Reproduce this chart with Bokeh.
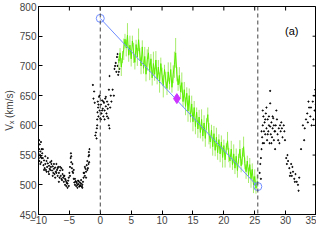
from bokeh.plotting import figure
from bokeh.models import Span, Range1d, FixedTicker
from bokeh.core.properties import value
from bokeh.embed import file_html
from bokeh.resources import INLINE

x_ticks = [-10, -5, 0, 5, 10, 15, 20, 25, 30, 35]
y_ticks = [450, 500, 550, 600, 650, 700, 750, 800]

black1_x = [-10.0,-9.95,-9.9,-9.85,-9.8,-9.75,-9.7,-9.65,-9.6,-9.55,-9.5,-9.4,-9.3,-9.2,-9.1,-9.0,
            -8.9,-8.8,-8.7,-8.6,-8.5,-8.4,-8.3,-8.2,-8.1,-8.0,-7.9,-7.8,-7.7,-7.6,-7.5,-7.4,-7.3,
            -7.2,-7.1,-7.0,-6.9,-6.8,-6.7,-6.6,-6.5,-6.4,-6.3,-6.2,-6.1,-6.0,-5.9,-5.8,-5.7,-5.6,
            -5.5,-5.4,-5.3,-5.2,-5.1,-5.0,-4.9,-4.8,-4.75,-4.7,-4.6,-4.5,-4.4,-4.3,-4.2,-4.1,-4.0,
            -3.9,-3.8,-3.7,-3.6,-3.5,-3.4,-3.3,-3.2,-3.1,-3.0,-2.9,-2.8,-2.7,-2.6,-2.5,-2.4,-2.3,
            -2.2,-2.1,-2.0,-1.9,-1.85,-1.8,-1.75,-1.2,-1.1,-1.0,-0.9,-0.8,-0.7,-0.6,-0.55,-0.5,
            -0.45,-0.4,-0.35,-0.3,-0.2,-0.1,0.0,0.1,0.2,0.3,0.4,0.5,0.6,0.7,0.8,0.9,1.0,1.1,1.2,
            1.3,1.4,1.4,1.5,1.5,1.6,1.7,1.8,2.0,2.3,2.5,2.6,2.7,2.8,2.9,3.0,3.1,
            -9.9,-9.7,-9.5,-9.3,-9.1,-8.9,-8.7,-8.5,-8.3,-8.1,-7.9,-7.7,-7.5,-7.3,-7.1,-6.9,-6.7,
            -6.5,-6.3,-6.1,-5.9,-5.7,-5.5,-5.3,-5.1,-4.9,-4.7,-4.5,-4.3,-4.1,-3.9,-3.7,-3.5,-3.3,
            -3.1,-2.9,-2.7,-2.5,-2.3,-2.1,-1.9,-1.8,-0.5,-0.3,-0.1,0.1,0.3,0.5,0.7,0.9,1.1,1.3,
            2.2,2.4,2.8,3.0]
black1_y = [552,545,560,540,568,550,556,547,572,538,560,553,545,533,541,528,
            535,525,540,530,536,522,532,527,538,530,535,524,531,520,527,518,529,
            522,535,525,515,530,520,512,524,515,528,508,518,512,505,515,500,508,
            498,503,495,507,512,520,530,545,553,538,528,535,520,510,504,500,506,
            498,503,500,507,501,497,504,499,502,497,500,505,512,520,515,527,522,
            533,540,528,548,555,538,560,668,645,657,638,583,588,578,595,610,
            622,640,630,615,648,625,612,635,620,642,628,615,638,625,645,632,620,640,628,
            612,600,660,595,683,630,650,640,660,695,705,690,715,700,685,710,695,
            575,535,545,560,525,548,522,545,518,525,540,515,535,512,520,528,505,
            530,510,525,515,510,505,502,498,515,548,522,525,510,505,495,506,498,
            508,495,520,530,512,525,535,550,600,635,650,610,625,640,610,648,615,635,
            650,700,720,690]

black2_x = [25.8,25.9,26.0,26.0,26.1,26.2,26.3,26.3,26.4,26.5,26.6,26.7,26.8,26.9,27.0,27.1,
            27.2,27.3,27.4,27.5,27.5,27.6,27.7,27.8,27.9,28.0,28.1,28.2,28.3,28.4,28.5,28.7,
            28.9,29.0,29.2,29.3,29.5,29.7,29.9,30.1,30.2,30.4,30.6,30.8,30.9,31.0,31.2,31.4,
            31.6,31.8,32.0,32.2,32.5,32.8,33.0,33.3,33.5,33.6,33.8,34.0,34.2,34.4,34.6,34.7,
            34.8,34.9,35.0,
            26.1,26.3,26.5,26.7,26.9,27.1,27.3,27.5,27.7,27.9,28.1,28.3,28.6,28.8,29.1,29.4,
            29.8,30.3,30.7,31.1,31.5,32.1,33.1,33.7,34.1,34.5,34.9]
black2_y = [520,535,545,510,560,580,600,570,615,590,605,585,620,595,575,610,
            590,600,570,658,637,585,605,580,595,612,575,590,560,600,625,585,
            595,570,590,605,580,600,575,545,535,540,528,520,535,515,522,510,
            518,505,500,512,560,600,575,610,620,605,630,615,600,640,650,625,
            660,635,645,
            590,625,570,610,630,585,615,598,570,615,600,590,610,575,600,595,
            590,550,515,530,505,490,595,640,630,610,655]

green_x = [3.0,3.2,3.4,3.6,3.8,4.0,4.2,4.4,4.6,4.8,5.0,5.2,5.4,5.6,5.8,6.0,6.2,6.4,6.6,6.8,
           7.0,7.2,7.4,7.6,7.8,8.0,8.2,8.4,8.6,8.8,9.0,9.2,9.4,9.6,9.8,10.0,10.2,10.4,10.6,10.8,
           11.0,11.2,11.4,11.6,11.8,12.0,12.2,12.4,12.6,12.8,13.0,13.2,13.4,13.6,13.8,14.0,14.2,
           14.4,14.6,14.8,15.0,15.2,15.4,15.6,15.8,16.0,16.2,16.4,16.6,16.8,17.0,17.2,17.4,17.6,
           17.8,18.0,18.2,18.4,18.6,18.8,19.0,19.2,19.4,19.6,19.8,20.0,20.2,20.4,20.6,20.8,21.0,
           21.2,21.4,21.6,21.8,22.0,22.2,22.4,22.6,22.8,23.0,23.2,23.4,23.6,23.8,24.0,24.2,24.4,
           24.6,24.8,25.0,25.2,25.4]
green_y = [705,722,698,715,728,745,730,752,718,735,
           712,742,722,706,736,715,744,720,700,732,
           696,716,686,710,722,690,712,680,704,686,
           710,678,698,672,704,684,666,694,676,662,
           690,670,694,664,686,702,722,686,668,684,
           656,672,640,660,632,654,624,650,614,636,
           606,630,598,622,594,614,588,610,582,604,
           578,602,618,586,572,592,564,586,558,580,
           554,576,552,572,546,566,542,562,574,550,
           540,560,534,552,528,548,524,544,560,532,
           548,564,536,522,540,516,534,510,526,500,
           514,494,506]
green_err = [12,8,15,10,18,9,14,20,11,16,
             13,9,17,12,8,15,19,10,14,11,
             9,16,12,18,10,14,8,13,20,11,
             15,9,12,17,10,13,19,8,14,11,
             16,10,12,9,15,22,25,12,10,14,
             11,17,9,13,15,10,18,12,9,14,
             16,11,13,8,15,12,10,17,9,13,
             14,10,12,18,11,9,15,13,10,16,
             12,9,14,11,17,10,13,8,15,12,
             11,14,9,16,10,13,12,8,15,11,
             14,17,10,12,9,13,11,15,10,14,
             12,9,11]

fit_x = [0.0, 25.5]
fit_y = [780, 497]
mid_x = [12.4]
mid_y = [645]
boundaries = [0.0, 25.5]
panel_label = "(a)"
panel_pos = (31.0, 758)
tick_len_px = 4

FONT = "Liberation Sans"
W, H = 316, 226
BL, BR, BT, BB = 31, 0, 6, 0

p = figure(width=W, height=H, output_backend="svg", toolbar_location=None,
           x_range=Range1d(-10, 35), y_range=Range1d(450, 800),
           min_border_left=BL, min_border_right=BR, min_border_top=BT, min_border_bottom=BB)
p.grid.visible = False
p.outline_line_color = "black"
p.background_fill_color = "white"

for ax in [p.xaxis[0], p.yaxis[0]]:
    ax.major_tick_in = tick_len_px
    ax.major_tick_out = 0
    ax.minor_tick_line_color = None
    ax.major_label_text_font = FONT
    ax.major_label_text_font_size = "10px"
    ax.major_label_standoff = 2
    ax.axis_line_color = "black"
p.xaxis.major_label_standoff = 1
p.xaxis.ticker = FixedTicker(ticks=x_ticks)
p.yaxis.ticker = FixedTicker(ticks=y_ticks)
p.yaxis.axis_label = "Vₓ (km/s)"
p.yaxis.axis_label_text_font = FONT
p.yaxis.axis_label_text_font_style = "normal"
p.yaxis.axis_label_text_font_size = "10px"
p.yaxis.axis_label_standoff = 2

# inward ticks on the top and right edges of the box (MATLAB style)
xr = p.x_range
yr = p.y_range
dy = tick_len_px * (yr.end - yr.start) / 207.0
dx = tick_len_px * (xr.end - xr.start) / 285.0
p.segment(x0=x_ticks, y0=[yr.end] * len(x_ticks), x1=x_ticks, y1=[yr.end - dy] * len(x_ticks),
          line_color="black", line_width=1)
p.segment(x0=[xr.end] * len(y_ticks), y0=y_ticks, x1=[xr.end - dx] * len(y_ticks), y1=y_ticks,
          line_color="black", line_width=1)

for b in boundaries:
    p.add_layout(Span(location=b, dimension="height", line_color="#444444",
                      line_dash="4 3", line_width=1))

p.scatter(black1_x, black1_y, size=1.2, color="black", marker="circle")
p.scatter(black2_x, black2_y, size=1.2, color="black", marker="circle")

lo = [y - e for y, e in zip(green_y, green_err)]
hi = [y + e for y, e in zip(green_y, green_err)]
p.segment(x0=green_x, y0=lo, x1=green_x, y1=hi, line_color="#a6ec6a", line_width=1)
p.line(green_x, green_y, line_color="#5cf000", line_width=1)

p.line(fit_x, fit_y, line_color="#6f8cff", line_width=1)
p.scatter(fit_x, fit_y, marker="circle", size=8, fill_color=None, line_color="#6f8cff", line_width=1)
p.scatter(mid_x, mid_y, marker="diamond", size=10, fill_color="#cc33ff", line_color="#cc33ff")

p.text(x=[panel_pos[0]], y=[panel_pos[1]], text=[panel_label], text_font=value(FONT),
       text_font_size="11px", text_align="center", text_baseline="middle", text_color="black")

open("out.html", "w").write(file_html(p, INLINE))
